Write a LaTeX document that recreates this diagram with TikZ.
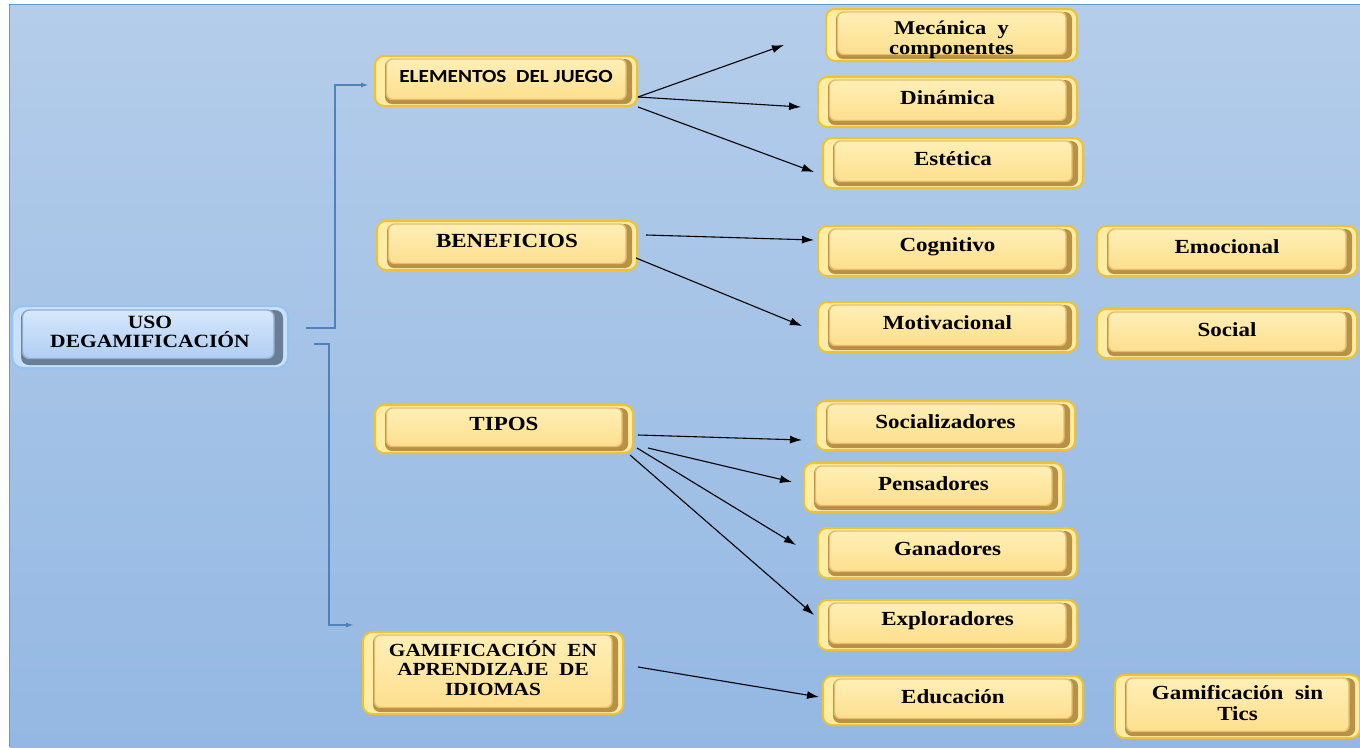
\documentclass[tikz,border=0pt]{standalone}
\usepackage{fontspec}
\setmainfont{Liberation Serif}[FakeStretch=1.15]
\newfontfamily\boxsans{Carlito}[FakeStretch=1.15]
\usetikzlibrary{arrows.meta,calc}

\definecolor{bgtop}{RGB}{180,205,234}
\definecolor{bgbot}{RGB}{148,184,227}
\definecolor{bgline}{RGB}{91,155,213}
\definecolor{goldrim}{RGB}{240,194,45}
\definecolor{goldband}{RGB}{255,236,165}
\definecolor{goldshadow}{RGB}{185,145,70}
\definecolor{goldsoft}{RGB}{228,190,110}
\definecolor{creamtop}{RGB}{255,239,182}
\definecolor{creambot}{RGB}{253,223,142}
\definecolor{bluerim}{RGB}{150,195,240}
\definecolor{blueband}{RGB}{200,224,250}
\definecolor{blueshadow}{RGB}{105,125,150}
\definecolor{bluesoft}{RGB}{150,174,204}
\definecolor{bluetop}{RGB}{214,232,252}
\definecolor{bluebot}{RGB}{176,206,242}
\definecolor{linkblue}{RGB}{79,129,189}

\tikzset{
  ybox/.style={
    rounded corners=9pt, draw=goldrim, line width=2pt,
    fill=goldband, inner sep=0pt,
    path picture={
      \fill[rounded corners=7pt, goldshadow]
        ([shift={(10pt,2pt)}]path picture bounding box.south west) rectangle
        ([shift={(-5pt,-3pt)}]path picture bounding box.north east);
      \shade[rounded corners=6pt, top color=creamtop, bottom color=creambot,
             draw=goldsoft, line width=1.4pt]
        ([shift={(11.5pt,6.5pt)}]path picture bounding box.south west) rectangle
        ([shift={(-11pt,-3pt)}]path picture bounding box.north east);
    }},
  bbox/.style={
    rounded corners=11pt, draw=bluerim, line width=2pt,
    fill=blueband, inner sep=0pt,
    path picture={
      \fill[rounded corners=8pt, blueshadow]
        ([shift={(9pt,3pt)}]path picture bounding box.south west) rectangle
        ([shift={(-5pt,-4pt)}]path picture bounding box.north east);
      \shade[rounded corners=7pt, top color=bluetop, bottom color=bluebot,
             draw=bluesoft, line width=1.4pt]
        ([shift={(10.5pt,9.5pt)}]path picture bounding box.south west) rectangle
        ([shift={(-14pt,-4pt)}]path picture bounding box.north east);
    }},
  lbl/.style={font=\bfseries\fontsize{20}{21}\selectfont, align=center, text=black, yshift=4pt, inner sep=0pt},
  lblsans/.style={lbl, font=\boxsans\bfseries\fontsize{18.5}{20}\selectfont, yshift=1pt},
  arr/.style={-{Latex[length=12pt,width=8pt]}, line width=1.1pt, black},
  barr/.style={-{Latex[length=8pt,width=5pt]}, line width=1.6pt, linkblue},
}

\begin{document}
\begin{tikzpicture}[x=1pt,y=-1pt]
\useasboundingbox (0,0) rectangle (1360,747);
\fill[white] (0,0) rectangle (1360,747);
\shade[top color=bgtop, bottom color=bgbot] (10,5) rectangle (1360,747);
\draw[bgline, line width=1.5pt] (9.5,747) -- (9.5,4.5) -- (1360,4.5);

% root
\node[bbox, minimum width=276pt, minimum height=62pt,
  label={[lbl, font=\bfseries\fontsize{18.7}{18.5}\selectfont, yshift=1pt]center:{USO\\DEGAMIFICACIÓN}}] (uso) at (150,337) {};

% first level
\node[ybox, minimum width=262pt, minimum height=50pt,
  label={[lblsans]center:ELEMENTOS\ \ DEL JUEGO}] (elem) at (506,81) {};
\node[ybox, minimum width=260pt, minimum height=49pt,
  label={[lbl, yshift=1pt]center:BENEFICIOS}] (benef) at (507,245.5) {};
\node[ybox, minimum width=258pt, minimum height=48pt,
  label={[lbl, yshift=1pt]center:TIPOS}] (tipos) at (504,429) {};
\node[ybox, minimum width=260pt, minimum height=82pt,
  label={[lbl, font=\bfseries\fontsize{18.5}{19.5}\selectfont, yshift=1pt]center:{GAMIFICACIÓN\ \ EN\\APRENDIZAJE\ \ DE\\IDIOMAS}}] (gam) at (493,673) {};

% second level
\node[ybox, minimum width=251pt, minimum height=52pt,
  label={[lbl, font=\bfseries\fontsize{19.5}{20}\selectfont, yshift=-9pt]center:{Mecánica\ \ y\\componentes}}] (mec) at (951.5,35) {};
\node[ybox, minimum width=259pt, minimum height=50pt,
  label={[lbl]center:Dinámica}] (din) at (947.5,102) {};
\node[ybox, minimum width=260pt, minimum height=50pt,
  label={[lbl]center:Estética}] (est) at (953,163) {};
\node[ybox, minimum width=259pt, minimum height=50pt,
  label={[lbl]center:Cognitivo}] (cog) at (947.5,251) {};
\node[ybox, minimum width=260pt, minimum height=50pt,
  label={[lbl]center:Emocional}] (emo) at (1227,251) {};
\node[ybox, minimum width=259pt, minimum height=50pt,
  label={[lbl]center:Motivacional}] (mot) at (947.5,327) {};
\node[ybox, minimum width=260pt, minimum height=49pt,
  label={[lbl]center:Social}] (soc) at (1227,333.5) {};
\node[ybox, minimum width=259pt, minimum height=49pt,
  label={[lbl]center:Socializadores}] (socz) at (945.5,425.5) {};
\node[ybox, minimum width=259pt, minimum height=49pt,
  label={[lbl]center:Pensadores}] (pens) at (933.5,487.5) {};
\node[ybox, minimum width=259pt, minimum height=50pt,
  label={[lbl]center:Ganadores}] (gan) at (947.5,553) {};
\node[ybox, minimum width=259pt, minimum height=50pt,
  label={[lbl]center:Exploradores}] (exp) at (947.5,625) {};
\node[ybox, minimum width=260pt, minimum height=49pt,
  label={[lbl]center:Educación}] (edu) at (953,700.5) {};
\node[ybox, minimum width=245pt, minimum height=63pt,
  label={[lbl, yshift=-1pt]center:{Gamificación\ \ sin\\Tics}}] (gst) at (1237.5,706.5) {};

% root to first level
\draw[barr] ([shift={(17pt,9pt)}]uso.east) -| ([shift={(-39pt,-4pt)}]elem.west) -- ([shift={(-5pt,-4pt)}]elem.west);
\draw[barr] ([shift={(25pt,-7pt)}]uso.east) -| ([shift={(-33pt,48pt)}]gam.west) -- ([shift={(-8pt,48pt)}]gam.west);

% elementos del juego
\draw[arr] ([yshift=-16pt]elem.east) -- ([shift={(-41pt,-10pt)}]mec.west);
\draw[arr] ([yshift=-16pt]elem.east) -- ([shift={(-16pt,-5pt)}]din.west);
\draw[arr] ([yshift=-26pt]elem.east) -- ([shift={(-8pt,-9pt)}]est.west);

% beneficios
\draw[arr] ([shift={(8pt,10.5pt)}]benef.east) -- ([shift={(-3pt,11pt)}]cog.west);
\draw[arr] ([shift={(-2pt,-12.5pt)}]benef.east) -- ([shift={(-15pt,1pt)}]mot.west);

% tipos
\draw[arr] ([shift={(4pt,-6pt)}]tipos.east) -- ([shift={(-13pt,-14.5pt)}]socz.west);
\draw[arr] ([shift={(14pt,-19pt)}]tipos.east) -- ([shift={(-11pt,5.5pt)}]pens.west);
\draw[arr] ([shift={(3pt,-19pt)}]tipos.east) -- ([shift={(-21pt,8pt)}]gan.west);
\draw[arr] ([shift={(-4pt,-26pt)}]tipos.east) -- ([shift={(-3pt,10pt)}]exp.west);

% idiomas
\draw[arr] ([shift={(14pt,6pt)}]gam.east) -- ([shift={(-3pt,3.5pt)}]edu.west);
\end{tikzpicture}
\end{document}
